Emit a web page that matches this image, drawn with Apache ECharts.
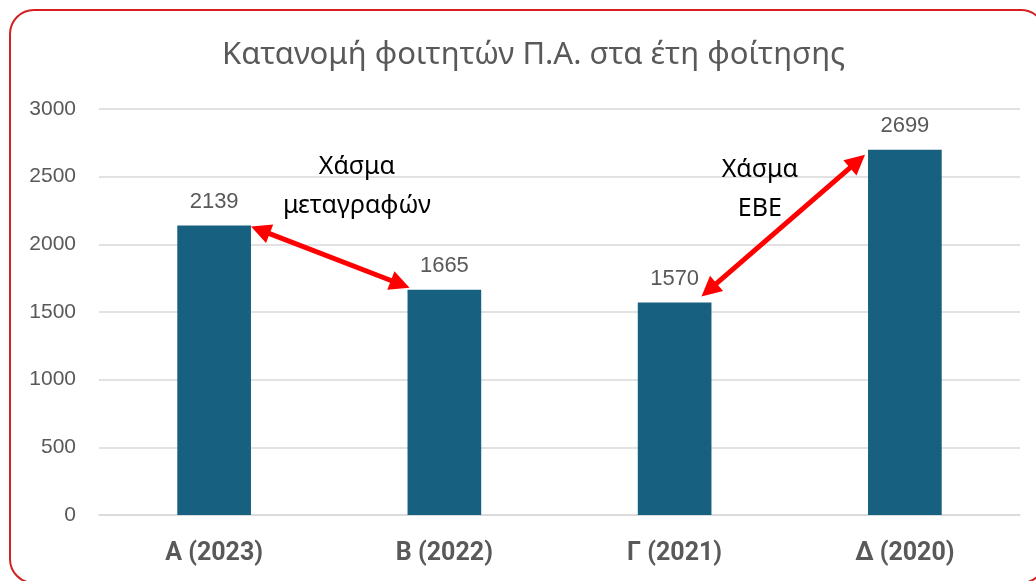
<!DOCTYPE html>
<html>
<head>
<meta charset="utf-8">
<script src="https://cdn.jsdelivr.net/npm/echarts@6/dist/echarts.min.js"></script>
<style>
  html, body { margin: 0; padding: 0; background: #fff; }
  #chart { width: 1036px; height: 581px; }
</style>
</head>
<body>
<div id="chart"></div>
<script>
const categories = ['Α (2023)', 'Β (2022)', 'Γ (2021)', 'Δ (2020)']
const students = [2139, 1665, 1570, 2699]
const yTicks = { min: 0, max: 3000, interval: 500 }
const gapNotes = [
  { from: 0, to: 1, text: 'Χάσμα\nμεταγραφών' },
  { from: 2, to: 3, text: 'Χάσμα\nΕΒΕ' }
]

const grey = '#595959'
const barColor = '#17607f'
const arrowRed = '#ff0000'

let myChart = echarts.init(document.getElementById('chart'), null, { renderer: 'canvas' })

let option = {
  animation: false,
  backgroundColor: '#fff',
  title: {
    text: 'Κατανομή φοιτητών Π.Α. στα έτη φοίτησης',
    left: 217,
    top: 35,
    textStyle: {
      fontFamily: 'Noto Sans',
      fontWeight: 'normal',
      fontSize: 31,
      color: grey
    }
  },
  grid: { left: 99, right: 16, top: 109, bottom: 66 },
  xAxis: {
    type: 'category',
    data: categories,
    axisLine: { lineStyle: { color: '#d9d9d9', width: 1.5 } },
    axisTick: { show: false },
    axisLabel: {
      margin: 26,
      fontFamily: 'Roboto',
      fontWeight: 'bold',
      fontSize: 25,
      color: grey
    }
  },
  yAxis: {
    type: 'value',
    min: yTicks.min,
    max: yTicks.max,
    interval: yTicks.interval,
    axisLine: { show: false },
    axisTick: { show: false },
    splitLine: { lineStyle: { color: '#d9d9d9', width: 1.5 } },
    axisLabel: {
      margin: 23,
      fontFamily: 'Liberation Sans',
      fontSize: 21,
      color: grey,
      formatter: v => String(v)
    }
  },
  series: [
    {
      type: 'bar',
      data: students,
      barWidth: '32%',
      itemStyle: { color: barColor },
      label: {
        show: true,
        position: 'top',
        distance: 13,
        fontFamily: 'Liberation Sans',
        fontSize: 22,
        color: grey
      }
    }
  ]
}
myChart.setOption(option)

// arrows between bar tops, positions taken from the chart's own scales
const arrowHead = (tip, from, len, half) => {
  let dx = tip[0] - from[0], dy = tip[1] - from[1]
  let d = Math.sqrt(dx * dx + dy * dy)
  let ux = dx / d, uy = dy / d
  let bx = tip[0] - ux * len, by = tip[1] - uy * len
  return [tip, [bx - uy * half, by + ux * half], [bx + uy * half, by - ux * half]]
}

const halfBar = (myChart.convertToPixel({ xAxisIndex: 0 }, categories[1]) -
  myChart.convertToPixel({ xAxisIndex: 0 }, categories[0])) * 0.16

let graphics = [
  {
    type: 'rect',
    shape: { x: 10, y: 10, width: 1035, height: 573, r: 24 },
    style: { fill: null, stroke: '#d42020', lineWidth: 2 },
    silent: true
  }
]

gapNotes.forEach((g, k) => {
  let p1 = myChart.convertToPixel({ seriesIndex: 0 }, [g.from, students[g.from]])
  let p2 = myChart.convertToPixel({ seriesIndex: 0 }, [g.to, students[g.to]])
  let a, b
  if (k === 0) {
    a = [p1[0] + halfBar, p1[1] + 1]
    b = [p2[0] - halfBar + 2, p2[1] - 2]
  } else {
    a = [p1[0] + halfBar - 10, p1[1] - 6]
    b = [p2[0] - halfBar - 3, p2[1] + 5]
  }
  let h1 = arrowHead(a, b, 20, 10)
  let h2 = arrowHead(b, a, 20, 10)
  let la = [a[0] + (b[0] - a[0]) * 0.08, a[1] + (b[1] - a[1]) * 0.08]
  let lb = [b[0] + (a[0] - b[0]) * 0.08, b[1] + (a[1] - b[1]) * 0.08]
  graphics.push({
    type: 'line',
    shape: { x1: la[0], y1: la[1], x2: lb[0], y2: lb[1] },
    style: { stroke: arrowRed, lineWidth: 5 },
    z: 10
  })
  graphics.push({ type: 'polygon', shape: { points: h1 }, style: { fill: arrowRed }, z: 10 })
  graphics.push({ type: 'polygon', shape: { points: h2 }, style: { fill: arrowRed }, z: 10 })

  let tx = k === 0 ? p1[0] + (p2[0] - p1[0]) * 0.62 : p1[0] + (p2[0] - p1[0]) * 0.37
  let ty = k === 0 ? p1[1] - 39 : p2[1] + 40
  graphics.push({
    type: 'text',
    x: tx,
    y: ty,
    style: {
      text: g.text,
      fontFamily: 'Noto Sans',
      fontSize: 25,
      lineHeight: 39,
      fill: '#000',
      align: 'center',
      verticalAlign: 'middle'
    },
    z: 11
  })
})

myChart.setOption({ graphic: graphics })
</script>
</body>
</html>
